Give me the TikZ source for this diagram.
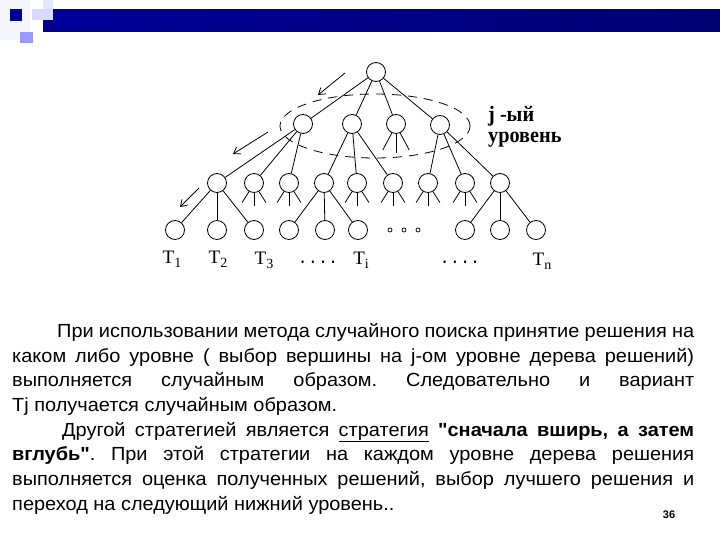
\documentclass[tikz,border=0pt]{standalone}
\usepackage{fontspec}
\setmainfont{Liberation Sans}
\newfontfamily\bodyfont[FakeStretch=1.05]{Liberation Sans}
\newfontfamily\monofont{Liberation Mono}
\newfontfamily\labfont{Liberation Serif}
\newfontfamily\jfont[FakeStretch=0.92]{Liberation Serif}
\usetikzlibrary{arrows.meta,shapes.geometric}
\newcommand\stubsbig[1]{\draw[edge] (#1.-115) -- ++(-9,17); \draw[edge] (#1.-90) -- ++(0,19); \draw[edge] (#1.-65) -- ++(9,17);}
\newcommand\stubssmall[1]{\draw[edge] (#1.-120) -- ++(-7,11); \draw[edge] (#1.-90) -- ++(0,13); \draw[edge] (#1.-60) -- ++(7,11);}
\newcommand\Tlab[1]{T\raisebox{-4pt}{\fontsize{14}{14}\selectfont #1}}
\begin{document}
\frenchspacing
\begin{tikzpicture}[x=1pt,y=-1pt,
  vx/.style={circle,draw,line width=0.8pt,minimum size=19pt,inner sep=0pt},
  edge/.style={line width=0.8pt},
  arr/.style={line width=0.8pt,-{Straight Barb[length=6pt,width=8pt]}},
  lbl/.style={font=\labfont\fontsize{19}{19}\selectfont,inner sep=0pt},
  ell/.style={font=\monofont\fontsize{17}{17}\selectfont,inner sep=0pt},
  jlab/.style={font=\jfont\bfseries\fontsize{22}{22}\selectfont,inner sep=0pt,anchor=west},
  lvl/.style={ellipse,draw,line width=0.8pt,dash pattern=on 9pt off 7pt,minimum width=190pt,minimum height=64pt,inner sep=0pt},
  dot/.style={circle,draw,line width=0.7pt,minimum size=4pt,inner sep=0pt}]
\useasboundingbox (0,0) rectangle (720,540);
\fill[white] (0,0) rectangle (720,540);
% top decoration
\fill[blue!4] (0,0) rectangle (30,40);
\fill[blue!15!white] (32,9) rectangle (53,20);
\fill[blue!10!white] (43,0) rectangle (53,9);
\fill[blue!40!white] (20,32) rectangle (33,43);
\fill[blue!60!black] (10,9) rectangle (22,21);
\fill[blue!55!black] (43,20) rectangle (53,32);
\fill[left color=blue!60!black,right color=blue!45!black] (53,10) rectangle (720,32);
% dashed level ellipse
\node[lvl] (level) at (375,126) {};
% tree nodes
\node[vx] (r) at (376,72) {};
\node[vx] (a1) at (303,124) {};
\node[vx] (a2) at (352,124) {};
\node[vx] (a3) at (396,124) {};
\node[vx] (a4) at (440,125) {};
\foreach \n/\x in {1/217,2/254,3/289,4/324,5/357,6/393,7/428,8/465,9/500}
  \node[vx] (b\n) at (\x,183) {};
\foreach \n/\x in {1/175,2/217,3/254,4/289,5/325,6/358,7/465,8/500,9/536}
  \node[vx] (c\n) at (\x,230) {};
\node[dot] (o1) at (390,230) {};
\node[dot] (o2) at (404,230) {};
\node[dot] (o3) at (418,230) {};
% edges
\foreach \t in {a1,a2,a3,a4} \draw[edge] (r) -- (\t);
\foreach \t in {b1,b2,b3} \draw[edge] (a1) -- (\t);
\foreach \t in {b4,b5,b6} \draw[edge] (a2) -- (\t);
\foreach \t in {b7,b8,b9} \draw[edge] (a4) -- (\t);
\foreach \t in {c1,c2,c3} \draw[edge] (b1) -- (\t);
\foreach \t in {c4,c5,c6} \draw[edge] (b4) -- (\t);
\foreach \t in {c7,c8,c9} \draw[edge] (b9) -- (\t);
\stubsbig{a3}
\foreach \t in {b2,b3,b5,b6,b7,b8} {\stubssmall{\t}}
% arrows
\coordinate (p1) at (345,73); \coordinate (q1) at (318,95);
\coordinate (p2) at (268,132); \coordinate (q2) at (233,154);
\coordinate (p3) at (199,188); \coordinate (q3) at (180,207);
\draw[arr] (p1) -- (q1);
\draw[arr] (p2) -- (q2);
\draw[arr] (p3) -- (q3);
% labels
\node[jlab] (j1) at (488,116) {j -ый};
\node[jlab] (j2) at (488,140) {уровень};
\node[lbl] (t1) at (172,259) {\Tlab{1}};
\node[lbl] (t2) at (218,259) {\Tlab{2}};
\node[lbl] (t3) at (264,260) {\Tlab{3}};
\node[ell] (e1) at (318,262) {....};
\node[lbl] (ti) at (361,260) {\Tlab{i}};
\node[ell] (e2) at (460,262) {....};
\node[lbl] (tn) at (542,261) {\Tlab{n}};
% text
\node[anchor=north west,inner sep=0pt,text width=682pt,align=justify,
  font=\bodyfont\fontsize{19}{24.7}\selectfont] (txt) at (12,323) {%
\hspace*{45pt}При использовании метода случайного поиска принятие решения на\linebreak
каком либо уровне ( выбор вершины на j-ом уровне дерева решений)\linebreak
выполняется случайным образом. Следовательно и вариант\linebreak
Tj получается случайным образом.\par
\hspace*{50pt}Другой стратегией является \underline{стратегия} \textbf{\symbol{34}сначала вширь, а затем}\linebreak
\textbf{вглубь\symbol{34}}. При этой стратегии на каждом уровне дерева решения\linebreak
выполняется оценка полученных решений, выбор лучшего решения и\linebreak
переход на следующий нижний уровень..\par};
\node[font=\bfseries\fontsize{11}{11}\selectfont,inner sep=0pt] (pg) at (669,515) {36};
\end{tikzpicture}
\end{document}
